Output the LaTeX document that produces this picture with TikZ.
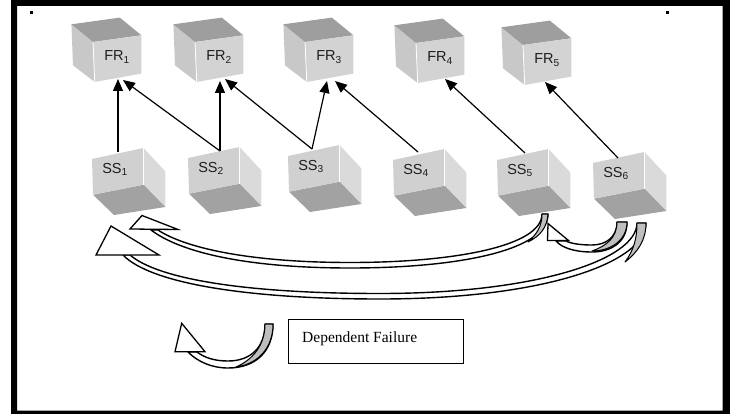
\documentclass[tikz,border=0pt]{standalone}
\usepackage{fontspec}
\setmainfont{Liberation Serif}
\newfontfamily\arialf{Liberation Sans}
\usetikzlibrary{arrows.meta}
\definecolor{frtop}{HTML}{9E9E9E}
\definecolor{frleft}{HTML}{C8C8C8}
\definecolor{frfront}{HTML}{D3D3D3}
\definecolor{ssfront}{HTML}{D0D0D0}
\definecolor{ssright}{HTML}{DADADA}
\definecolor{ssbottom}{HTML}{A2A2A2}
\definecolor{lbltext}{HTML}{1E1E1E}

\newcommand\FRcube[4]{%
\begin{scope}[shift={(#2,#3)}]
\fill[frleft] (-21.6,-17.7) -- (0,0) -- (1.7,40) -- (-20,23.3) -- cycle;
\fill[frtop] (-21.6,-17.7) -- (26.8,-24.4) -- (48.4,-6.7) -- (0,0) -- cycle;
\fill[frfront] (0,0) -- (48.4,-6.7) -- (48.4,31.6) -- (1.7,40) -- cycle;
\draw[white, line width=0.8pt] (0,0) -- (1.7,40);
\node[lbl] (#1) at (24,15) {FR\textsubscript{#4}};
\end{scope}}

\newcommand\SScube[4]{%
\begin{scope}[shift={(#2,#3)}]
\fill[ssright] (51.6,-11) -- (73.3,12.4) -- (73.3,48) -- (51.6,25.7) -- cycle;
\fill[ssbottom] (1,35.7) -- (51.6,25.7) -- (73.3,48) -- (22,56) -- cycle;
\fill[ssfront] (0,0) -- (51.6,-11) -- (51.6,25.7) -- (1,35.7) -- cycle;
\draw[white, line width=0.8pt] (51.6,-11) -- (51.6,25.7);
\node[lbl] (#1) at (23,10.5) {SS\textsubscript{#4}};
\end{scope}}

\begin{document}
\begin{tikzpicture}[x=1pt,y=-1pt,
  lbl/.style={font=\arialf\fontsize{14.5}{16}\selectfont, text=lbltext, inner sep=0pt},
  conn/.style={draw=black, line width=1.2pt, -{Triangle[length=12pt,width=10pt]}},
  band/.style={fill=white, draw=black, line width=1.4pt, line join=round},
  bandgray/.style={fill=gray!50, draw=black, line width=1pt, line join=round},
  headstyle/.style={fill=white, draw=black, line width=1.3pt, line join=miter},
  legendbox/.style={draw=black, line width=0.9pt, fill=white, inner sep=0pt, anchor=north west}
]
\useasboundingbox (0,0) rectangle (730,414);
% frame
\fill[black, even odd rule] (11,0) rectangle (730,414) (17,6) rectangle (722.7,410.7);
\fill[black] (29.5,10.7) rectangle (32.5,13.7);
\fill[black] (665.5,10.7) rectangle (668.5,13.7);

% FR cubes
\FRcube{fr1}{93}{42}{1}
\FRcube{fr2}{195}{42}{2}
\FRcube{fr3}{305}{42}{3}
\FRcube{fr4}{416}{43}{4}
\FRcube{fr5}{523}{45}{5}

% SS cubes
\SScube{ss1}{92}{159}{1}
\SScube{ss2}{188}{158}{2}
\SScube{ss3}{288}{156}{3}
\SScube{ss4}{393}{160}{4}
\SScube{ss5}{497}{160}{5}
\SScube{ss6}{593}{163}{6}

% connector end points
\coordinate (ss1t) at (118,152);
\coordinate (fr1a) at (118,79);
\coordinate (ss2t) at (220,151);
\coordinate (fr1b) at (123,80);
\coordinate (fr2a) at (220,81);
\coordinate (ss3t) at (312,149);
\coordinate (fr2b) at (225,79);
\coordinate (fr3a) at (327,81);
\coordinate (ss4t) at (418,152);
\coordinate (fr3b) at (335,81);
\coordinate (ss5t) at (525,153);
\coordinate (fr4a) at (445,79);
\coordinate (ss6t) at (618,158);
\coordinate (fr5a) at (545,82);

\draw[conn] (ss1t) -- (fr1a);
\draw[conn] (ss2t) -- (fr1b);
\draw[conn] (ss2t) -- (fr2a);
\draw[conn] (ss3t) -- (fr2b);
\draw[conn] (ss3t) -- (fr3a);
\draw[conn] (ss4t) -- (fr3b);
\draw[conn] (ss5t) -- (fr4a);
\draw[conn] (ss6t) -- (fr5a);

% curved block arrow B (SS6 -> SS1, lower)
\filldraw[band] (646,223) .. controls (646,262) and (545,299) .. (380,299)
  .. controls (245,299) and (150,283) .. (123,255) -- (130,255)
  .. controls (158,279) and (245,293.5) .. (380,293.5)
  .. controls (535,293.5) and (637,260) .. (637,223) -- cycle;
\filldraw[bandgray] (637,223) -- (646,223) .. controls (646,240) and (638,252) .. (625,262)
  .. controls (634,250) and (637,238) .. (637,223) -- cycle;
\filldraw[headstyle] (96,255) -- (111,226) -- (159,255) -- cycle;

% curved block arrow A (SS5 -> SS1, upper)
\filldraw[band] (548,214) .. controls (548,250) and (460,268) .. (350,268)
  .. controls (245,268) and (180,252) .. (151,230) -- (158,230)
  .. controls (185,248) and (250,262.5) .. (350,262.5)
  .. controls (455,262.5) and (542,246) .. (542,214) -- cycle;
\filldraw[bandgray] (542,214) -- (548,214) .. controls (547,228) and (540,236) .. (528,242)
  .. controls (537,234) and (542,226) .. (542,214) -- cycle;
\filldraw[headstyle] (130,229) -- (142,215.5) -- (178,229.5) -- cycle;

% curved block arrow C (SS6 -> SS5, small)
\filldraw[band] (627,222) .. controls (627,243) and (610,252) .. (592,252)
  .. controls (575,252) and (562,248) .. (556,241) -- (566,241)
  .. controls (572,244) and (582,245) .. (592,245)
  .. controls (605,245) and (617,238) .. (617,222) -- cycle;
\filldraw[bandgray] (617,222) -- (627,222) .. controls (627,240) and (611,251) .. (592,251)
  .. controls (606,246) and (617,238) .. (617,222) -- cycle;
\filldraw[headstyle] (548,223.5) -- (547.5,240.5) -- (568.5,240.5) -- cycle;

% legend arrow D
\filldraw[band] (273,324) .. controls (273,352) and (255,368) .. (228,368)
  .. controls (212,368) and (198,362) .. (188,352) -- (197,352)
  .. controls (205,358) and (215,361) .. (228,361)
  .. controls (250,361) and (265,348) .. (265,324) -- cycle;
\filldraw[bandgray] (265,324) -- (273,324) .. controls (273,348) and (258,364) .. (236,367)
  .. controls (252,360) and (265,346) .. (265,324) -- cycle;
\filldraw[headstyle] (175,351.7) -- (181.7,323.3) -- (205,351.7) -- cycle;

% legend
\node[legendbox, minimum width=175pt, minimum height=44pt] (legend) at (288.3,319.3) {};
\node[anchor=west, inner sep=0pt, font=\fontsize{15.5}{17}\selectfont] (legtext) at (302,338.5) {Dependent Failure};
\end{tikzpicture}
\end{document}
